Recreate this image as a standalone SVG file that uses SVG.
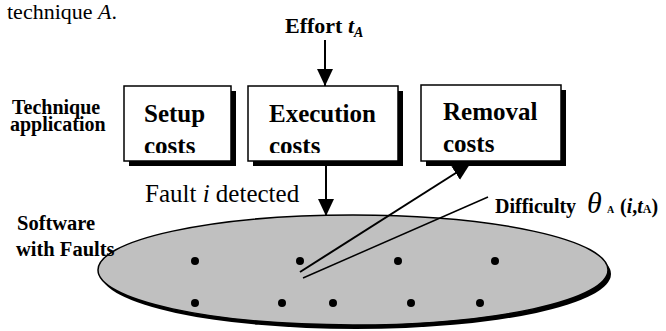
<svg xmlns="http://www.w3.org/2000/svg" width="666" height="331" viewBox="0 0 666 331">
  <style>
    .serif { font-family: "Liberation Serif", "Times New Roman", serif; fill: #000; }
    .bold { font-weight: bold; }
    .box { fill: #fff; stroke: #000; stroke-width: 1.5; }
    .shadow { fill: #000; }
    .boxlabel { font-size: 25px; }
    .side { font-size: 20px; }
    .conn { stroke: #000; stroke-width: 2; fill: none; }
    .thin { stroke: #000; stroke-width: 1.5; fill: none; }
    .dot { fill: #000; }
  </style>
  <defs>
    <marker id="head" markerUnits="userSpaceOnUse" markerWidth="18" markerHeight="18" viewBox="0 0 18 18" refX="17" refY="9" orient="auto">
      <path d="M0,1 L17,9 L0,17 Z" fill="#000"/>
    </marker>
    <clipPath id="clipLow" clipPathUnits="userSpaceOnUse">
      <rect x="0" y="0" width="666" height="153"/>
    </clipPath>
  </defs>

  <!-- caption fragment -->
  <text class="serif" x="7" y="19" font-size="22">technique <tspan font-style="italic">A</tspan>.</text>

  <!-- side labels -->
  <g id="label-technique">
    <text class="serif bold side" x="12" y="114">Technique</text>
    <text class="serif bold side" x="10" y="131">application</text>
  </g>

  <!-- effort input -->
  <g id="effort">
    <text class="serif bold" x="285" y="33" font-size="22">Effort <tspan font-style="italic">t</tspan><tspan font-style="italic" font-size="14" dy="4">A</tspan></text>
  </g>

  <!-- software ellipse with faults -->
  <g id="software">
    <ellipse cx="356" cy="274" rx="255" ry="55" class="shadow"/>
    <ellipse cx="353" cy="270" rx="255" ry="55" fill="#c0c0c0" stroke="#000" stroke-width="1.5"/>
    <circle class="dot" cx="195" cy="261" r="4"/>
    <circle class="dot" cx="300" cy="261" r="4"/>
    <circle class="dot" cx="398" cy="261" r="4"/>
    <circle class="dot" cx="495" cy="261" r="4"/>
    <circle class="dot" cx="195" cy="303" r="4"/>
    <circle class="dot" cx="282" cy="303" r="4"/>
    <circle class="dot" cx="333" cy="303" r="4"/>
    <circle class="dot" cx="411" cy="303" r="4"/>
    <circle class="dot" cx="480" cy="303" r="4"/>
  </g>
  <g id="label-software">
    <text class="serif bold" x="17" y="230" font-size="20.5">Software</text>
    <text class="serif bold" x="16" y="256" font-size="20.5">with Faults</text>
  </g>

  <!-- cost boxes -->
  <g id="setup">
    <rect class="shadow" x="129" y="91" width="107" height="75"/>
    <rect class="box" x="124" y="86" width="107" height="75"/>
    <text class="serif bold boxlabel" x="144" y="122">Setup</text>
    <text class="serif bold boxlabel" x="144" y="154" clip-path="url(#clipLow)">costs</text>
  </g>
  <g id="execution">
    <rect class="shadow" x="253" y="91" width="150" height="75"/>
    <rect class="box" x="248" y="86" width="150" height="75"/>
    <text class="serif bold boxlabel" x="269" y="122">Execution</text>
    <text class="serif bold boxlabel" x="269" y="154" clip-path="url(#clipLow)">costs</text>
  </g>
  <g id="removal">
    <rect class="shadow" x="426" y="90" width="140" height="76"/>
    <rect class="box" x="421" y="85" width="140" height="76"/>
    <text class="serif bold boxlabel" x="443" y="120">Removal</text>
    <text class="serif bold boxlabel" x="443" y="152" clip-path="url(#clipLow)">costs</text>
  </g>

  <!-- connectors -->
  <g id="connectors">
    <line class="conn" x1="325" y1="40" x2="325" y2="86" marker-end="url(#head)"/>
    <line class="conn" x1="326" y1="166" x2="326" y2="216" marker-end="url(#head)"/>
    <line class="conn" x1="300" y1="272" x2="470" y2="164" marker-end="url(#head)"/>
    <line class="thin" x1="303" y1="278" x2="488" y2="197"/>
  </g>

  <text class="serif" x="145" y="202" font-size="25">Fault <tspan font-style="italic">i</tspan> detected</text>

  <g id="label-difficulty">
    <text class="serif bold" x="495" y="213" font-size="20">Difficulty</text>
    <text class="serif" x="587" y="213" font-size="30" font-style="italic">θ</text>
    <text class="serif bold" x="607" y="213" font-size="10">A</text>
    <text class="serif bold" x="620" y="213" font-size="20">(<tspan font-style="italic">i</tspan>,<tspan font-style="italic">t</tspan><tspan font-size="12" font-style="normal">A</tspan>)</text>
  </g>
</svg>
